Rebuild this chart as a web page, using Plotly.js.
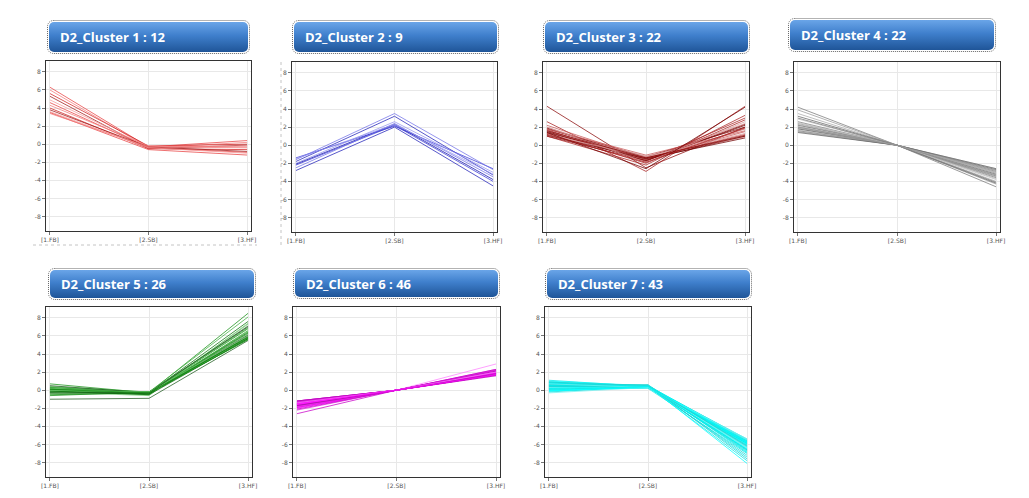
<!DOCTYPE html>
<html>
<head>
<meta charset="utf-8">
<script src="https://cdn.plot.ly/plotly-3.0.1.min.js"></script>
<style>
  html, body { margin: 0; padding: 0; background: #ffffff; }
  #chart { width: 1029px; height: 498px; }
</style>
</head>
<body>
<div id="chart"></div>
<script>
// ---------- DATA ----------
const categories = ["[1.FB]", "[2.SB]", "[3.HF]"];
const yTickVals = [-8, -6, -4, -2, 0, 2, 4, 6, 8];
const yTickText = ["-8", "-6", "-4", "-2", "0", "2", "4", "6", "8"];

const clusterTitles = [
  "D2_Cluster 1 : 12", "D2_Cluster 2 : 9", "D2_Cluster 3 : 22", "D2_Cluster 4 : 22",
  "D2_Cluster 5 : 26", "D2_Cluster 6 : 46", "D2_Cluster 7 : 43"
];

// each row: [FB, SB, HF]
const cluster1 = [
  [6.3, -0.3, 0.4], [6.0, -0.4, 0.2], [5.6, -0.2, 0.0], [5.3, -0.5, -0.1],
  [4.9, -0.3, -0.2], [4.6, -0.4, -0.9], [4.3, -0.2, -0.3], [4.0, -0.5, -0.6],
  [3.8, -0.3, -0.8], [3.6, -0.4, -1.0], [3.5, -0.6, -1.2], [3.4, -0.3, -0.4]
];
const cluster2 = [
  [-1.4, 2.1, -2.6], [-1.6, 3.5, -2.7], [-1.8, 3.2, -3.3], [-2.0, 2.6, -3.0],
  [-2.1, 2.3, -3.8], [-2.2, 2.2, -4.0], [-2.5, 2.4, -3.5], [-2.8, 2.0, -4.5],
  [-1.5, 2.3, -3.2]
];
const cluster3 = [
  [4.3, -2.5, 2.0], [2.6, -2.9, 4.3], [2.2, -1.4, 1.2], [2.0, -1.5, 2.4],
  [1.9, -1.6, 1.0], [1.8, -1.3, 2.0], [1.7, -1.8, 3.0], [1.6, -1.5, 1.5],
  [1.5, -1.2, 0.9], [1.5, -1.7, 2.2], [1.4, -1.4, 1.1], [1.3, -2.0, 2.8],
  [1.3, -1.6, 1.8], [1.2, -1.3, 1.3], [1.1, -1.5, 0.8], [1.0, -1.7, 2.3],
  [1.0, -2.2, 3.3], [1.8, -1.1, 1.6], [2.0, -1.9, 2.6], [1.4, -2.6, 4.2],
  [1.6, -1.4, 1.0], [1.2, -1.9, 1.9]
];
const cluster4 = [
  [4.2, 0.0, -4.6], [3.9, 0.0, -4.3], [3.5, 0.0, -4.0], [3.2, 0.0, -4.2],
  [2.9, 0.0, -3.8], [2.6, 0.0, -3.6], [2.4, 0.0, -3.5], [2.3, 0.0, -3.3],
  [2.2, 0.0, -3.2], [2.1, 0.0, -3.0], [2.0, 0.0, -2.9], [1.9, 0.0, -3.1],
  [1.8, 0.0, -2.8], [1.8, 0.0, -2.7], [1.7, 0.0, -2.6], [1.6, 0.0, -3.4],
  [1.5, 0.0, -2.8], [1.5, 0.0, -3.0], [1.4, 0.0, -2.6], [2.5, 0.0, -3.7],
  [3.0, 0.0, -4.1], [2.0, 0.0, -3.3]
];
const cluster5 = [
  [0.7, -0.3, 8.5], [0.4, -0.2, 8.1], [0.3, -0.3, 7.6], [0.2, -0.4, 7.3],
  [0.1, -0.2, 7.0], [0.0, -0.3, 6.8], [0.0, -0.5, 6.6], [-0.1, -0.3, 6.4],
  [-0.1, -0.2, 6.2], [-0.2, -0.4, 6.0], [-0.2, -0.3, 5.9], [-0.3, -0.2, 5.8],
  [-0.3, -0.4, 5.7], [-0.4, -0.3, 5.6], [-1.0, -0.9, 5.5], [-0.5, -0.3, 6.3],
  [0.3, -0.2, 6.9], [0.1, -0.4, 5.9], [-0.2, -0.6, 7.4], [0.5, -0.3, 6.1],
  [-0.6, -0.2, 5.8], [0.2, -0.3, 6.5], [-0.1, -0.5, 5.7], [0.0, -0.2, 6.0],
  [-0.3, -0.3, 7.1], [0.1, -0.3, 5.6]
];
const cluster6 = [
  [-1.2, 0.0, 1.7], [-1.3, 0.0, 1.8], [-1.3, 0.0, 1.7], [-1.4, 0.0, 1.9],
  [-1.4, 0.0, 1.8], [-1.5, 0.0, 2.0], [-1.5, 0.0, 1.7], [-1.6, 0.0, 1.9],
  [-1.6, 0.0, 2.1], [-1.7, 0.0, 1.8], [-1.7, 0.0, 2.0], [-1.8, 0.0, 2.1],
  [-1.8, 0.0, 1.9], [-1.9, 0.0, 2.9], [-1.9, 0.0, 2.0], [-2.0, 0.0, 2.2],
  [-2.2, 0.0, 2.3], [-2.6, 0.0, 2.3], [-1.3, 0.0, 1.6], [-1.4, 0.0, 1.7],
  [-1.2, 0.0, 1.9], [-1.5, 0.0, 1.8], [-1.6, 0.0, 1.7], [-1.3, 0.0, 2.0],
  [-1.4, 0.0, 2.1], [-1.5, 0.0, 1.9], [-1.6, 0.0, 2.0], [-1.7, 0.0, 1.9],
  [-1.8, 0.0, 2.0], [-1.2, 0.0, 1.8], [-1.3, 0.0, 1.9], [-1.4, 0.0, 1.8],
  [-1.5, 0.0, 2.1], [-1.6, 0.0, 1.8], [-1.7, 0.0, 2.2], [-1.9, 0.0, 1.9],
  [-1.3, 0.0, 1.7], [-1.4, 0.0, 1.9], [-1.5, 0.0, 2.0], [-1.2, 0.0, 1.6],
  [-1.6, 0.0, 1.9], [-1.8, 0.0, 2.2], [-2.1, 0.0, 2.0], [-1.4, 0.0, 2.0],
  [-1.7, 0.0, 1.8], [-1.5, 0.0, 1.7]
];
const cluster7 = [
  [1.1, 0.4, -5.4], [1.0, 0.5, -5.6], [0.9, 0.3, -5.8], [0.8, 0.4, -6.0],
  [0.8, 0.5, -5.5], [0.7, 0.3, -6.2], [0.7, 0.4, -5.7], [0.6, 0.5, -6.4],
  [0.6, 0.3, -5.9], [0.5, 0.4, -6.1], [0.5, 0.6, -6.6], [0.4, 0.3, -5.6],
  [0.4, 0.4, -6.3], [0.3, 0.5, -6.8], [0.3, 0.3, -5.8], [0.2, 0.4, -6.0],
  [0.2, 0.2, -7.0], [0.1, 0.4, -6.5], [0.1, 0.3, -5.5], [0.0, 0.4, -6.2],
  [0.0, 0.5, -7.4], [-0.1, 0.3, -5.9], [-0.2, 0.4, -6.7], [-0.3, 0.3, -6.1],
  [0.9, 0.4, -7.8], [0.5, 0.5, -8.1], [0.6, 0.4, -7.2], [0.3, 0.3, -5.4],
  [0.4, 0.5, -6.9], [0.7, 0.4, -6.5], [0.2, 0.3, -5.7], [0.1, 0.5, -6.4],
  [0.8, 0.3, -5.9], [0.0, 0.3, -6.0], [0.6, 0.6, -7.6], [0.3, 0.4, -6.3],
  [0.5, 0.3, -5.6], [0.2, 0.5, -5.8], [0.4, 0.4, -6.1], [0.7, 0.3, -5.5],
  [0.1, 0.4, -6.6], [-0.1, 0.4, -5.7], [0.9, 0.5, -6.2]
];

// ---------- STYLE ----------
const W = 1029, H = 498;
const clusters = [cluster1, cluster2, cluster3, cluster4, cluster5, cluster6, cluster7];
const palettes = [
  ["#e84040", "#f27a7a", "#d02020", "#a01818", "#f49a9a"],
  ["#3a3ad4", "#7272e8", "#2020b8", "#9494f0", "#1010a8"],
  ["#8b0a0a", "#a82020", "#c85858", "#d89a9a", "#700000"],
  ["#7a7a7a", "#999999", "#aaaaaa", "#666666", "#bbbbbb"],
  ["#159015", "#40b040", "#0a700a", "#70c870", "#1e5a1e"],
  ["#ff00ff", "#e020e0", "#c800c8", "#ff80ff", "#b010b0"],
  ["#00e8e8", "#00ffff", "#20d4d4", "#70f2f2"]
];
// plot boxes in pixels [x0, x1, y0(top), y1(bottom)]
const boxes = [
  [46, 251, 61, 231], [292, 497, 62, 232], [543, 749, 62, 232], [794, 1000, 62, 232],
  [46, 252, 307, 477], [293, 500, 307, 477], [545, 751, 307, 477]
];
// banners [x0, x1, y0, y1]
const banners = [
  [47, 250, 20, 54], [292, 499, 20, 54], [543, 750, 20, 54], [788, 996, 18, 52],
  [48, 256, 268, 300], [293, 500, 268, 299], [545, 752, 268, 300]
];

const traces = [];
const layout = {
  width: W, height: H,
  margin: {l: 0, r: 0, t: 0, b: 0},
  paper_bgcolor: "#ffffff",
  plot_bgcolor: "#ffffff",
  showlegend: false,
  images: [], annotations: [], shapes: []
};

function bannerSVG(w, h) {
  const svg =
    '<svg xmlns="http://www.w3.org/2000/svg" width="' + w + '" height="' + h + '" viewBox="0 0 ' + w + ' ' + h + '">' +
    '<defs><linearGradient id="g" x1="0" y1="0" x2="0" y2="1">' +
    '<stop offset="0" stop-color="#6aa5e8"/>' +
    '<stop offset="0.45" stop-color="#3f7fcc"/>' +
    '<stop offset="1" stop-color="#1f5598"/>' +
    '</linearGradient></defs>' +
    '<rect x="0.5" y="0.5" width="' + (w - 1) + '" height="' + (h - 1) + '" rx="6" ry="6" fill="none" stroke="#666" stroke-width="1" stroke-dasharray="1,1"/>' +
    '<rect x="2" y="2" width="' + (w - 4) + '" height="' + (h - 4) + '" rx="5" ry="5" fill="url(#g)"/>' +
    '</svg>';
  return 'data:image/svg+xml;charset=utf-8,' + encodeURIComponent(svg);
}

clusters.forEach((rows, i) => {
  const n = i + 1;
  const xa = n === 1 ? "x" : "x" + n;
  const ya = n === 1 ? "y" : "y" + n;
  const pal = palettes[i];
  rows.forEach((r, k) => {
    traces.push({
      type: "scatter", mode: "lines",
      x: categories, y: r,
      xaxis: xa, yaxis: ya,
      line: {color: pal[k % pal.length], width: 1},
      opacity: 0.75,
      hoverinfo: "skip"
    });
  });
  const b = boxes[i];
  const common = {
    showgrid: true, gridcolor: "#e8e8e8", gridwidth: 1,
    zeroline: false,
    showline: true, mirror: true, linecolor: "#333333", linewidth: 1,
    ticks: "outside", ticklen: 3, tickcolor: "#777777",
    tickfont: {family: "DejaVu Sans, sans-serif", size: 6, color: "#555555"},
    fixedrange: true
  };
  layout["xaxis" + (n === 1 ? "" : n)] = Object.assign({}, common, {
    type: "category",
    domain: [b[0] / W, b[1] / W],
    anchor: ya,
    range: [-0.04, 2.04],
    tickvals: categories, ticktext: categories
  });
  layout["yaxis" + (n === 1 ? "" : n)] = Object.assign({}, common, {
    domain: [1 - b[3] / H, 1 - b[2] / H],
    anchor: xa,
    range: [-9.6, 9.2],
    tickvals: yTickVals, ticktext: yTickText
  });
  const bn = banners[i];
  const bw = bn[1] - bn[0], bh = bn[3] - bn[2];
  layout.images.push({
    source: bannerSVG(bw, bh),
    xref: "paper", yref: "paper",
    x: bn[0] / W, y: 1 - bn[2] / H,
    sizex: bw / W, sizey: bh / H,
    xanchor: "left", yanchor: "top",
    sizing: "stretch", layer: "above"
  });
  layout.annotations.push({
    text: "<b>" + clusterTitles[i] + "</b>",
    xref: "paper", yref: "paper",
    x: (bn[0] + 11) / W, y: 1 - (bn[2] + bh / 2) / H,
    xanchor: "left", yanchor: "middle",
    showarrow: false,
    font: {family: "Open Sans, sans-serif", size: 13, color: "#ffffff"}
  });
});

// faint dotted screenshot frame lines
layout.shapes.push(
  {type: "line", xref: "paper", yref: "paper", x0: 281 / W, x1: 281 / W, y0: 1 - 62 / H, y1: 1 - 245 / H,
   line: {color: "#c4c4c4", width: 1, dash: "dot"}},
  {type: "line", xref: "paper", yref: "paper", x0: 33 / W, x1: 257 / W, y0: 1 - 245 / H, y1: 1 - 245 / H,
   line: {color: "#c4c4c4", width: 1, dash: "dot"}}
);

Plotly.newPlot("chart", traces, layout, {displayModeBar: false, staticPlot: true});
</script>
</body>
</html>
